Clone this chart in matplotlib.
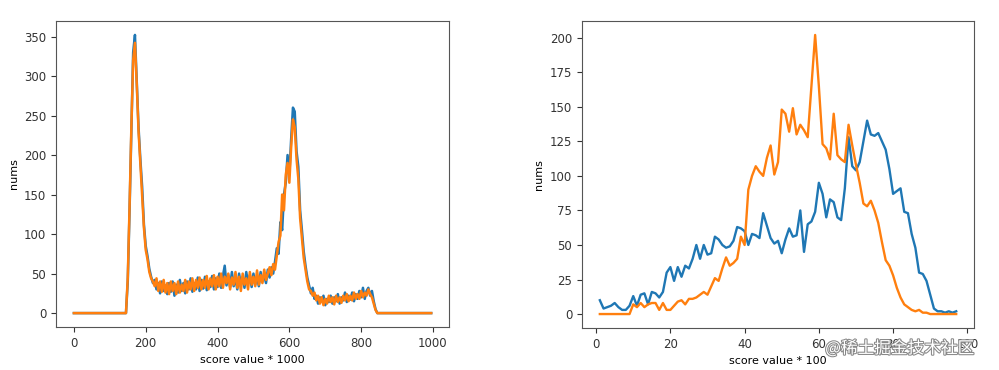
import numpy as np
import matplotlib
matplotlib.use('Agg')
import matplotlib.pyplot as plt
import matplotlib.patheffects as pe

# left: score * 1000 histogram (sampled every 5)
left_blue = [0] * 30 + [
    40, 130, 230, 330, 352, 295, 235, 195, 160, 112,
    85, 72, 56, 46, 38, 42, 30, 38, 25, 40,
    28, 35, 24, 38, 27, 40, 22, 36, 26, 42,
    28, 38, 25, 40, 30, 44, 27, 38, 30, 45,
    28, 42, 31, 46, 29, 40, 33, 47, 30, 44,
    33, 50, 32, 47, 60, 35, 48, 33, 52, 34,
    45, 30, 50, 36, 46, 32, 52, 38, 48, 33,
    50, 36, 46, 34, 52, 40, 48, 38, 55, 45,
    58, 50, 65, 82, 75, 115, 105, 150, 165, 200,
    175, 220, 260, 255, 205, 185, 130, 105, 78, 60,
    45, 35, 25, 32, 18, 22, 12, 20, 15, 22,
    10, 18, 14, 22, 12, 20, 15, 24, 12, 20,
    16, 26, 14, 22, 17, 26, 15, 24, 18, 28,
    20, 32, 18, 28, 32, 22, 28, 15, 5, 0,
] + [0] * 30
left_orange = [0] * 30 + [
    45, 135, 235, 320, 342, 290, 230, 190, 150, 108,
    80, 68, 52, 44, 40, 34, 44, 28, 40, 27,
    42, 26, 38, 24, 40, 28, 38, 24, 40, 26,
    36, 28, 42, 26, 40, 30, 44, 28, 42, 32,
    45, 30, 42, 32, 47, 30, 44, 34, 48, 30,
    46, 34, 50, 32, 46, 38, 50, 30, 45, 36,
    52, 32, 46, 28, 50, 36, 44, 30, 52, 36,
    46, 34, 54, 36, 48, 38, 55, 42, 50, 58,
    48, 62, 55, 72, 90, 98, 150, 130, 175, 190,
    165, 210, 245, 235, 195, 170, 120, 95, 70, 55,
    40, 30, 28, 22, 26, 16, 22, 12, 20, 10,
    18, 12, 22, 14, 20, 11, 22, 14, 20, 13,
    22, 16, 24, 15, 22, 16, 26, 18, 24, 18,
    28, 20, 26, 22, 30, 24, 20, 12, 4, 0,
] + [0] * 30

# right: score * 100 histogram, x = 1..97
right_x = list(range(1, 98))
right_blue = [
    10, 4, 5, 6, 8, 5, 3, 3, 6, 13,
    6, 14, 15, 7, 16, 15, 12, 16, 30, 34,
    24, 34, 27, 35, 33, 40, 50, 40, 50, 43,
    44, 56, 54, 50, 48, 49, 53, 63, 62, 60,
    50, 58, 57, 55, 73, 64, 55, 51, 53, 44,
    54, 62, 56, 57, 75, 45, 65, 67, 74, 95,
    87, 70, 83, 81, 70, 68, 91, 128, 107, 104,
    110, 125, 140, 130, 129, 131, 125, 119, 105, 87,
    89, 91, 74, 73, 58, 48, 30, 29, 24, 14,
    4, 2, 2, 1, 2, 1, 2,
]
right_orange = [
    0, 0, 0, 0, 0, 0, 0, 0, 0, 7,
    5, 8, 5, 7, 8, 8, 3, 8, 3, 3,
    6, 9, 10, 7, 11, 11, 12, 14, 16, 14,
    20, 26, 24, 33, 41, 35, 37, 40, 56, 50,
    90, 100, 107, 103, 100, 113, 122, 101, 110, 148,
    145, 132, 149, 130, 137, 133, 128, 165, 202, 165,
    123, 120, 112, 145, 115, 112, 110, 137, 122, 108,
    95, 80, 78, 82, 75, 66, 52, 39, 35, 28,
    19, 12, 7, 5, 3, 2, 3, 1, 1, 0,
    0, 0, 0, 0, 0, 0, 0,
]

left_x = np.arange(len(left_blue)) * 5

plt.rcParams['font.size'] = 8
fig = plt.figure(figsize=(9.99, 3.70), dpi=100)

ax1 = fig.add_axes([0.0561, 0.1162, 0.3934, 0.827])
ax1.plot(left_x, left_blue, lw=1.8)
ax1.plot(left_x, left_orange, lw=1.8)
ax1.set_xlabel('score value * 1000')
ax1.set_ylabel('nums')

ax2 = fig.add_axes([0.5826, 0.1135, 0.3924, 0.8297])
ax2.plot(right_x, right_blue, lw=1.7)
ax2.plot(right_x, right_orange, lw=1.7)
ax2.set_xlabel('score value * 100')
ax2.set_ylabel('nums')

for ax in (ax1, ax2):
    for s in ax.spines.values():
        s.set_color('#555555')
    ax.tick_params(colors='#333333', labelsize=8.5)

# watermark
fig.text(0.826, 0.045, '@稀土掘金技术社区', fontsize=12, color='white',
         family=['Noto Sans CJK SC', 'DejaVu Sans'],
         path_effects=[pe.withStroke(linewidth=1.5, foreground='#888888')])

fig.savefig('out.png', dpi=100)
